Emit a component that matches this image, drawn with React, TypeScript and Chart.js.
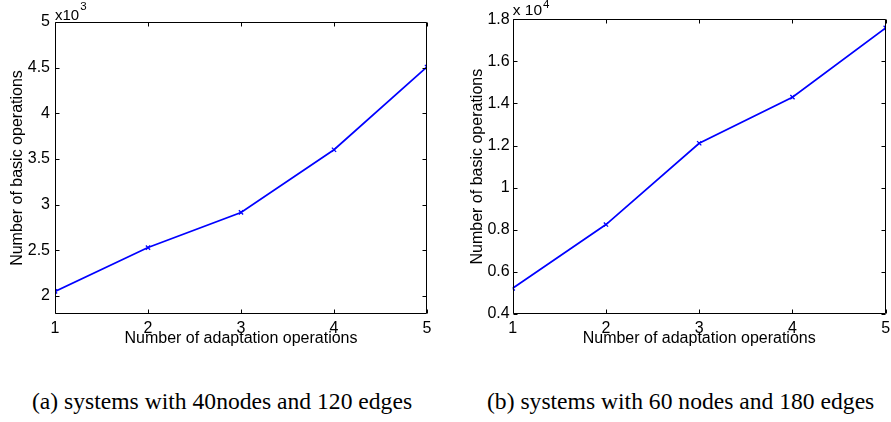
import React, { useEffect, useRef } from "react";
import { Chart, registerables } from "chart.js";

Chart.register(...registerables);

// ---- data ----
const xValues = [1, 2, 3, 4, 5];
const xTickValues = [1, 2, 3, 4, 5];

const opsA = [2048, 2528, 2913, 3600, 4507];
const yTickValuesA = [2000, 2500, 3000, 3500, 4000, 4500, 5000];
const yTickLabelsA = ["2", "2.5", "3", "3.5", "4", "4.5", "5"];

const opsB = [5220, 8250, 12110, 14300, 17590];
const yTickValuesB = [4000, 6000, 8000, 10000, 12000, 14000, 16000, 18000];
const yTickLabelsB = ["0.4", "0.6", "0.8", "1", "1.2", "1.4", "1.6", "1.8"];

const xTitle = "Number of adaptation operations";
const yTitle = "Number of basic operations";
const captionA = "(a) systems with 40nodes and 120 edges";
const captionB = "(b) systems with 60 nodes and 180 edges";

const SANS = "'Liberation Sans', Arial, sans-serif";
const TICK_SIZE = 16;

Chart.defaults.font.family = SANS;
Chart.defaults.font.size = TICK_SIZE;
Chart.defaults.color = "#000";

type Cfg = {
  width: number;
  height: number;
  values: number[];
  yMin: number;
  yMax: number;
  yTicks: number[];
  yLabels: string[];
  plotLeft: number;
  plotRight: number;
  plotTop: number;
  yTickPad: number;
  yTitlePad: number;
  expBase: string;
  expSup: string;
  expBaseY: number;
  expSupY: number;
  expFont: number;
};

const frameAndTicks = {
  id: "frameAndTicks",
  afterDraw(chart: any, _args: any, opts: any) {
    const { ctx, chartArea } = chart;
    const { left, right, top, bottom } = chartArea;
    const xs = chart.scales.x;
    const ys = chart.scales.y;
    const L = Math.round(left) + 0.5;
    const R = Math.round(right) - 0.5;
    const T = Math.round(top) + 0.5;
    const B = Math.round(bottom) - 0.5;
    const tl = 4;
    ctx.save();
    ctx.strokeStyle = "#000";
    ctx.lineWidth = 1;
    ctx.beginPath();
    ctx.rect(L, T, R - L, B - T);
    for (const t of xs.ticks) {
      const p = Math.round(xs.getPixelForValue(t.value)) + 0.5;
      ctx.moveTo(p, B);
      ctx.lineTo(p, B - tl);
      ctx.moveTo(p, T);
      ctx.lineTo(p, T + tl);
    }
    for (const t of ys.ticks) {
      const p = Math.round(ys.getPixelForValue(t.value)) + 0.5;
      ctx.moveTo(L, p);
      ctx.lineTo(L + tl, p);
      ctx.moveTo(R, p);
      ctx.lineTo(R - tl, p);
    }
    ctx.stroke();
    // exponent label
    ctx.fillStyle = "#000";
    ctx.textBaseline = "alphabetic";
    ctx.textAlign = "left";
    ctx.font = `${opts.expFont}px ${SANS}`;
    ctx.fillText(opts.expBase, left, opts.expBaseY);
    const w = ctx.measureText(opts.expBase).width;
    ctx.font = `11.5px ${SANS}`;
    ctx.fillText(opts.expSup, left + w + 1, opts.expSupY);
    ctx.restore();
  },
};

function LineChart({ cfg }: { cfg: Cfg }) {
  const ref = useRef<HTMLCanvasElement | null>(null);
  useEffect(() => {
    if (!ref.current) return;
    const xAxisHeight = 34.5;
    const tickFont = { family: SANS, size: TICK_SIZE };
    const chart = new Chart(ref.current, {
      type: "line",
      data: {
        datasets: [
          {
            data: xValues.map((x, i) => ({ x, y: cfg.values[i] })),
            borderColor: "#0000ff",
            backgroundColor: "#0000ff",
            borderWidth: 1.7,
            pointStyle: "crossRot",
            pointRadius: 3,
            pointBorderWidth: 1.3,
            pointBorderColor: "#0000ff",
            tension: 0,
            fill: false,
          },
        ],
      },
      options: {
        animation: false,
        responsive: false,
        maintainAspectRatio: false,
        devicePixelRatio: 1,
        font: tickFont,
        layout: {
          padding: {
            left: 0,
            right: cfg.width - cfg.plotRight,
            top: cfg.plotTop,
            bottom: cfg.height - 314 - xAxisHeight,
          },
        },
        plugins: {
          legend: { display: false },
          tooltip: { enabled: false },
          frameAndTicks: {
            expBase: cfg.expBase,
            expSup: cfg.expSup,
            expBaseY: cfg.expBaseY,
            expSupY: cfg.expSupY,
            expFont: cfg.expFont,
          },
        } as any,
        scales: {
          x: {
            type: "linear",
            min: 1,
            max: 5,
            grid: { display: false, drawTicks: false },
            border: { display: false },
            afterBuildTicks: (s: any) => {
              s.ticks = xTickValues.map((v) => ({ value: v }));
            },
            afterFit: (s: any) => {
              s.height = xAxisHeight;
              s.paddingLeft = 0;
              s.paddingRight = 0;
            },
            ticks: {
              padding: 4.5,
              color: "#000",
              font: tickFont,
              maxRotation: 0,
              autoSkip: false,
              callback: (v: any) => String(v),
            },
            title: {
              display: true,
              text: xTitle,
              color: "#000",
              font: { family: SANS, size: 16 },
              padding: { top: 0, bottom: 0 },
            },
          },
          y: {
            type: "linear",
            min: cfg.yMin,
            max: cfg.yMax,
            grid: { display: false, drawTicks: false },
            border: { display: false },
            afterBuildTicks: (s: any) => {
              s.ticks = cfg.yTicks.map((v) => ({ value: v }));
            },
            afterFit: (s: any) => {
              s.width = cfg.plotLeft;
              s.paddingTop = 0;
              s.paddingBottom = 0;
            },
            ticks: {
              padding: cfg.yTickPad,
              color: "#000",
              font: tickFont,
              autoSkip: false,
              callback: (v: any) => {
                const i = cfg.yTicks.indexOf(Number(v));
                return i >= 0 ? cfg.yLabels[i] : "";
              },
            },
            title: {
              display: true,
              text: yTitle,
              color: "#000",
              font: { family: SANS, size: 16 },
              padding: { top: cfg.yTitlePad, bottom: 0 },
            },
          },
        },
      },
      plugins: [frameAndTicks],
    } as any);
    return () => chart.destroy();
  }, [cfg]);
  return (
    <canvas
      ref={ref}
      width={cfg.width}
      height={cfg.height}
      style={{ width: cfg.width, height: cfg.height, display: "block" }}
    />
  );
}

const cfgA: Cfg = {
  width: 440,
  height: 360,
  values: opsA,
  yMin: 1800,
  yMax: 5000,
  yTicks: yTickValuesA,
  yLabels: yTickLabelsA,
  plotLeft: 55,
  plotRight: 427,
  plotTop: 22,
  yTickPad: 5,
  yTitlePad: 8,
  expBase: "x10",
  expSup: "3",
  expBaseY: 20,
  expSupY: 9.5,
  expFont: 15,
};

const cfgB: Cfg = {
  width: 451,
  height: 360,
  values: opsB,
  yMin: 4000,
  yMax: 18000,
  yTicks: yTickValuesB,
  yLabels: yTickLabelsB,
  plotLeft: 72.7,
  plotRight: 447.7,
  plotTop: 19.3,
  yTickPad: 3,
  yTitlePad: 28,
  expBase: "x 10",
  expSup: "4",
  expBaseY: 15,
  expSupY: 8,
  expFont: 15.5,
};

const captionStyle: React.CSSProperties = {
  position: "absolute",
  fontFamily: "'Liberation Serif', 'Times New Roman', serif",
  fontSize: 23.6,
  lineHeight: "23.6px",
  color: "#000",
  whiteSpace: "nowrap",
};

export default function App() {
  return (
    <div
      style={{
        position: "absolute",
        left: 0,
        top: 0,
        width: 891,
        height: 422,
        overflow: "hidden",
        background: "#fff",
      }}
    >
      <div style={{ position: "absolute", left: 0, top: 0 }}>
        <LineChart cfg={cfgA} />
      </div>
      <div style={{ position: "absolute", left: 440, top: 0 }}>
        <LineChart cfg={cfgB} />
      </div>
      <div style={{ ...captionStyle, left: 32, top: 390 }}>{captionA}</div>
      <div style={{ ...captionStyle, left: 487, top: 390 }}>{captionB}</div>
    </div>
  );
}
